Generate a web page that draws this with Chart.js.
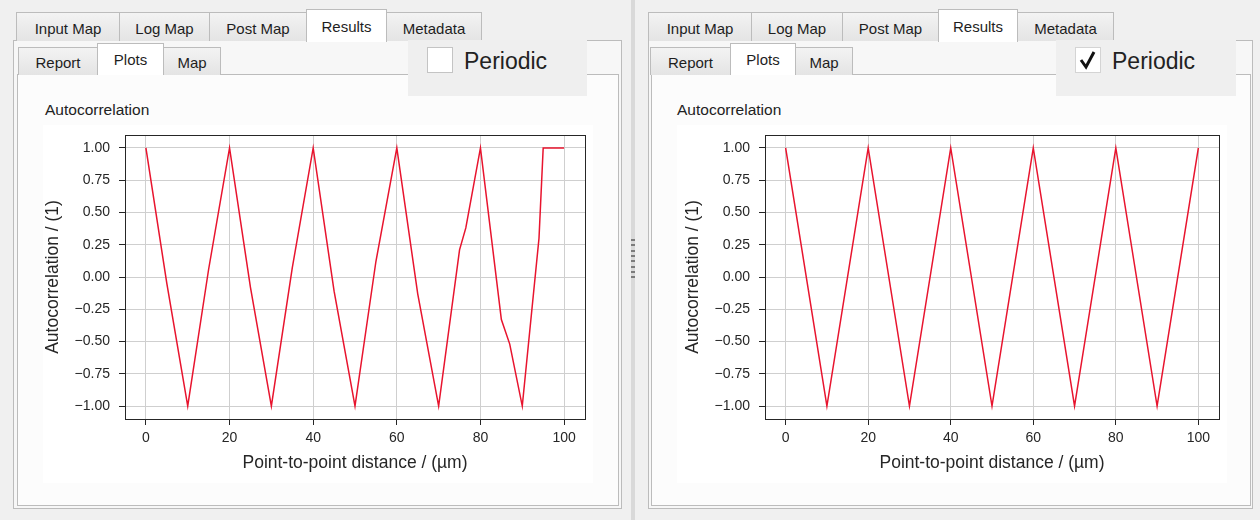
<!DOCTYPE html>
<html>
<head>
<meta charset="utf-8">
<script src="https://cdn.jsdelivr.net/npm/chart.js@4.4.1/dist/chart.umd.min.js"></script>
<style>
  body { margin: 0; width: 1260px; height: 520px; background: #f0f0f0; position: relative; overflow: hidden;
         font-family: "Liberation Sans", Arial, sans-serif; color: #1e1e1e; }
  .box { position: absolute; box-sizing: border-box; }
  .outer { border: 1px solid #bcbcbc; background: #f7f7f7; }
  .inner { border: 1px solid #bcbcbc; background: #fcfcfc; }
  .tab { position: absolute; box-sizing: border-box; border: 1px solid #bcbcbc; border-bottom: none;
         background: linear-gradient(#f3f3f3, #e4e4e4); font-size: 15px; text-align: center; }
  .tab.sel { background: #fff; z-index: 2; }
  .overlay { position: absolute; background: #efefef; z-index: 5; }
  .check { position: absolute; box-sizing: border-box; width: 26px; height: 26px; background: #fff; border: 1px solid #c4c4c4; }
  .periodic { position: absolute; font-size: 23px; color: #222; }
  .caption { position: absolute; font-size: 15.5px; color: #222; }
  .fig { position: absolute; background: #fff; }
  .splitter { position: absolute; left: 631px; top: 0; width: 4px; height: 520px; background: #d9d9d9; }
  .grip { position: absolute; left: 631px; width: 4px; height: 2px; background: #7c7c7c; }
</style>
</head>
<body>

<!-- left panel -->
<div class="box outer" style="left:13px;top:40px;width:609px;height:469px;"></div>
<div class="tab" style="left:16px;top:12px;width:104px;height:29px;line-height:31px;">Input Map</div>
<div class="tab" style="left:119px;top:12px;width:91px;height:29px;line-height:31px;">Log Map</div>
<div class="tab" style="left:209px;top:12px;width:98px;height:29px;line-height:31px;">Post Map</div>
<div class="tab sel" style="left:306px;top:9px;width:81px;height:33px;line-height:33px;">Results</div>
<div class="tab" style="left:386px;top:12px;width:96px;height:29px;line-height:31px;">Metadata</div>
<div class="box inner" style="left:17px;top:74px;width:602px;height:432px;"></div>
<div class="tab" style="left:18px;top:47px;width:80px;height:28px;line-height:30px;">Report</div>
<div class="tab sel" style="left:97px;top:43px;width:67px;height:32px;line-height:32px;">Plots</div>
<div class="tab" style="left:163px;top:47px;width:58px;height:28px;line-height:30px;">Map</div>
<div class="overlay" style="left:408px;top:40px;width:179px;height:56px;">
  <div class="check" style="left:19px;top:7px;"></div>
  <div class="periodic" style="left:56px;top:7px;line-height:28px;">Periodic</div>
</div>
<div class="caption" style="left:45px;top:101px;">Autocorrelation</div>
<div class="fig" style="left:43px;top:125px;width:550px;height:358px;"><canvas id="acfOpen" width="550" height="358"></canvas></div>

<!-- splitter -->
<div class="splitter"></div>
<div id="grips"></div>

<!-- right panel -->
<div class="box outer" style="left:648px;top:40px;width:605px;height:469px;"></div>
<div class="tab" style="left:648px;top:12px;width:104px;height:29px;line-height:31px;">Input Map</div>
<div class="tab" style="left:751px;top:12px;width:92px;height:29px;line-height:31px;">Log Map</div>
<div class="tab" style="left:842px;top:12px;width:97px;height:29px;line-height:31px;">Post Map</div>
<div class="tab sel" style="left:938px;top:9px;width:80px;height:33px;line-height:33px;">Results</div>
<div class="tab" style="left:1017px;top:12px;width:97px;height:29px;line-height:31px;">Metadata</div>
<div class="box inner" style="left:651px;top:74px;width:600px;height:432px;"></div>
<div class="tab" style="left:650px;top:47px;width:81px;height:28px;line-height:30px;">Report</div>
<div class="tab sel" style="left:730px;top:43px;width:66px;height:32px;line-height:32px;">Plots</div>
<div class="tab" style="left:795px;top:47px;width:58px;height:28px;line-height:30px;">Map</div>
<div class="overlay" style="left:1056px;top:40px;width:180px;height:56px;">
  <div class="check" style="left:19px;top:7px;border-color:#d4d4d4;">
    <svg width="24" height="24" viewBox="0 0 24 24" style="position:absolute;left:0;top:0;">
      <polyline points="5,12 10,19 18,4" fill="none" stroke="#111" stroke-width="3" stroke-linejoin="miter"/>
    </svg>
  </div>
  <div class="periodic" style="left:56px;top:7px;line-height:28px;">Periodic</div>
</div>
<div class="caption" style="left:677px;top:101px;">Autocorrelation</div>
<div class="fig" style="left:677px;top:125px;width:550px;height:358px;"><canvas id="acfPeriodic" width="550" height="358"></canvas></div>

<script>
// autocorrelation without periodic boundary
const distOpen = [0, 5, 10, 15, 20, 25, 30, 35, 40, 45, 50, 55, 60, 65, 70, 75, 76.5, 80, 85, 87, 90, 94, 95, 100];
const acfOpen = [1, -0.05, -1, 0.06, 1, -0.08, -1, 0.07, 1, -0.11, -1, 0.12, 1, -0.13, -1, 0.21, 0.38, 1, -0.33, -0.52, -1, 0.3, 1, 1];

// autocorrelation with periodic boundary
const distPeriodic = [0, 10, 20, 30, 40, 50, 60, 70, 80, 90, 100];
const acfPeriodic = [1, -1, 1, -1, 1, -1, 1, -1, 1, -1, 1];

const xTicks = [0, 20, 40, 60, 80, 100];
const yTicks = [-1, -0.75, -0.5, -0.25, 0, 0.25, 0.5, 0.75, 1];

// splitter handle dots
const grips = document.getElementById('grips');
for (let i = 0; i < 8; i++) {
  const d = document.createElement('div');
  d.className = 'grip';
  d.style.top = (239 + i * 5.3) + 'px';
  grips.appendChild(d);
}

// frame around the plot area, drawn above the line like mpl spines
const frame = {
  id: 'frame',
  afterDatasetsDraw(chart) {
    const a = chart.chartArea;
    const ctx = chart.ctx;
    ctx.save();
    ctx.strokeStyle = '#262626';
    ctx.lineWidth = 1;
    ctx.strokeRect(Math.round(a.left) + 0.5, Math.round(a.top) + 0.5,
                   Math.round(a.right - a.left), Math.round(a.bottom - a.top));
    ctx.restore();
  }
};

const tickFont = { family: 'Liberation Sans', size: 14 };
const titleFont = { family: 'Liberation Sans', size: 17.5, lineHeight: 1 };

function fmtY(v) {
  const s = Math.abs(v).toFixed(2);
  return v < 0 ? '\u2212' + s : s;
}

function drawAcf(id, xs, ys, yAxisWidth, yTitlePad) {
  const points = xs.map((x, i) => ({ x: x, y: ys[i] }));
  new Chart(document.getElementById(id), {
    type: 'scatter',
    data: {
      datasets: [{
        data: points,
        showLine: true,
        borderColor: '#e8142e',
        borderWidth: 1.5,
        pointRadius: 0,
        tension: 0
      }]
    },
    options: {
      responsive: false,
      animation: false,
      layout: { padding: { top: 10, right: 8, left: 0, bottom: 0 } },
      plugins: { legend: { display: false }, tooltip: { enabled: false } },
      scales: {
        x: {
          type: 'linear',
          min: -5, max: 105,
          afterBuildTicks: s => { s.ticks = xTicks.map(v => ({ value: v })); },
          afterFit: s => { s.height = 64; s.paddingLeft = 0; s.paddingRight = 0; },
          ticks: { font: tickFont, color: '#262626', padding: 5, maxRotation: 0, callback: v => String(v) },
          grid: { color: '#cfcfcf', tickColor: '#262626', tickLength: 6 },
          border: { display: false },
          title: { display: true, text: 'Point-to-point distance / (\u00b5m)', font: titleFont, color: '#262626',
                   padding: { top: 0, bottom: 11 } }
        },
        y: {
          min: -1.1, max: 1.1,
          afterBuildTicks: s => { s.ticks = yTicks.map(v => ({ value: v })); },
          afterFit: s => { s.width = yAxisWidth; s.paddingTop = 0; s.paddingBottom = 0; },
          ticks: { font: tickFont, color: '#262626', padding: 9, callback: v => fmtY(v) },
          grid: { color: '#cfcfcf', tickColor: '#262626', tickLength: 6 },
          border: { display: false },
          title: { display: true, text: 'Autocorrelation / (1)', font: titleFont, color: '#262626',
                   padding: { top: yTitlePad, bottom: 0 } }
        }
      }
    },
    plugins: [frame]
  });
}

drawAcf('acfOpen', distOpen, acfOpen, 82, 1);
drawAcf('acfPeriodic', distPeriodic, acfPeriodic, 88, 7);
</script>
</body>
</html>
